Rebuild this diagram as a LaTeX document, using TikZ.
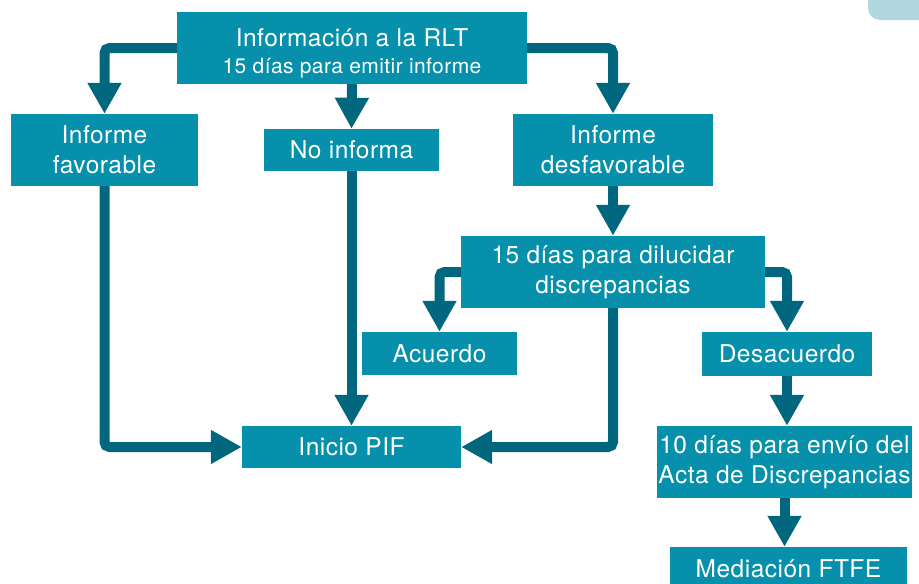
\documentclass[tikz,border=0pt]{standalone}
\usepackage{fontspec}
\setmainfont{TeX Gyre Heros}[LetterSpace=2]
\usetikzlibrary{arrows.meta}
\definecolor{boxcol}{HTML}{0790AB}
\definecolor{arrcol}{HTML}{00677F}
\definecolor{corner}{HTML}{B3D7E1}
\begin{document}
\begin{tikzpicture}[x=1pt,y=-1pt,
  box/.style={fill=boxcol,draw=none,text=white,align=center,inner sep=0pt,
    font=\fontsize{24.5}{30}\selectfont},
  conn/.style={draw=arrcol,line width=10pt,rounded corners=5pt,
    -{Triangle[length=31pt,width=32pt]}}]
\useasboundingbox (0,0) rectangle (919,584);
\fill[corner,rounded corners=12pt] (868,-20) rectangle (940,20);
\node[box,minimum width=350pt,minimum height=72pt,
  label={[text=white,align=center,inner sep=0pt,yshift=-5pt,font=\fontsize{24.5}{30}\selectfont]center:{Información a la RLT\\[-3pt]\fontsize{21}{26}\selectfont 15 días para emitir informe}}] (top) at (352,48) {};
\node[box,minimum width=187pt,minimum height=72pt] (fav) at (104.5,150) {Informe\\favorable};
\node[box,minimum width=175pt,minimum height=42pt] (noinf) at (351.5,150) {No informa};
\node[box,minimum width=200pt,minimum height=72pt] (desf) at (613,150) {Informe\\desfavorable};
\node[box,minimum width=304pt,minimum height=72pt] (dil) at (613,272) {15 días para dilucidar\\discrepancias};
\node[box,minimum width=155pt,minimum height=43pt] (acu) at (439.5,353.5) {Acuerdo};
\node[box,minimum width=170pt,minimum height=44pt] (desac) at (787,354) {Desacuerdo};
\node[box,minimum width=219pt,minimum height=42pt] (pif) at (351.5,447) {Inicio PIF};
\node[box,minimum width=255pt,minimum height=72pt] (diez) at (784.5,462) {10 días para envío del\\Acta de Discrepancias};
\node[box,minimum width=237pt,minimum height=43pt] (med) at (788.5,568.5) {Mediación FTFE};
\draw[conn] (top.west) -| (fav.north);
\draw[conn] (top.south) -- (noinf.north);
\draw[conn] (top.east) -| (desf.north);
\draw[conn] (desf.south) -- (dil.north);
\draw[conn] (dil.west) -| (acu.north);
\draw[conn] (dil.east) -| (desac.north);
\draw[conn] (fav.south) |- (pif.west);
\draw[conn] (noinf.south) -- (pif.north);
\draw[conn] (dil.south) |- (pif.east);
\draw[conn] (desac.south) -- (desac.south |- diez.north);
\draw[conn] (diez.south) -- (diez.south |- med.north);
\end{tikzpicture}
\end{document}
